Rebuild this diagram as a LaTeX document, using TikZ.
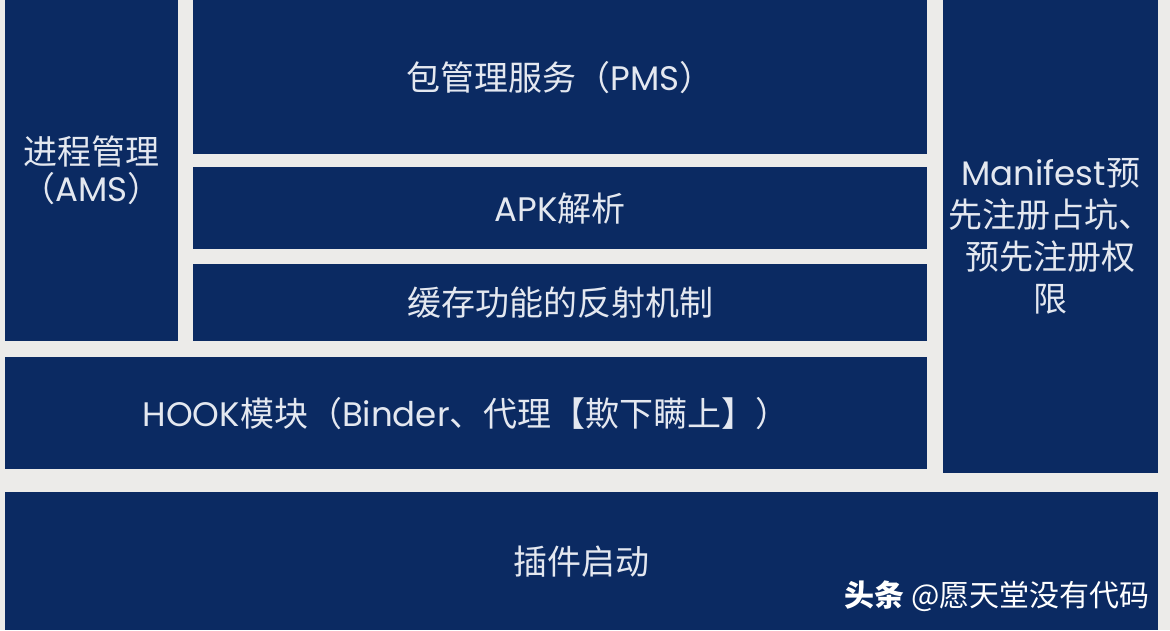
\documentclass[tikz,border=0pt]{standalone}
\usepackage{fontspec}
\setmainfont{Noto Sans CJK SC}
\newfontfamily\lat{Poppins}
\definecolor{navy}{RGB}{11,42,98}
\definecolor{paper}{RGB}{236,235,233}
\definecolor{txt}{RGB}{228,232,240}

\begin{document}
\begin{tikzpicture}[x=1pt, y=-1pt,
  blk/.style={fill=navy, text=txt, anchor=north west, inner sep=0pt, align=center,
    font=\fontsize{34}{42}\selectfont}]
\fill[paper] (0,0) rectangle (1170,630);
\useasboundingbox (0,0) rectangle (1170,630);
% left and right columns
\node[blk, minimum width=173pt, minimum height=341pt] (ams) at (5,0) {进程管理\\[-5pt]（{\lat AMS}）};
\node[blk, minimum width=215pt, minimum height=473pt] (mani) at (943,0) {{\lat Manifest}预\\先注册占坑、\\预先注册权\\限};
% middle stack
\node[blk, minimum width=734pt, minimum height=154pt] (pms) at (193,0) {包管理服务（{\lat PMS}）};
\node[blk, minimum width=734pt, minimum height=82pt] (apk) at (193,167) {{\lat APK}解析};
\node[blk, minimum width=734pt, minimum height=77pt] (cache) at (193,264) {缓存功能的反射机制};
\node[blk, minimum width=922pt, minimum height=112pt] (hook) at (5,357) {{\lat HOOK}模块（{\lat Binder}、代理【欺下瞒上】）};
% bottom
\node[blk, minimum width=1153pt, minimum height=138pt] (start) at (5,492) {插件启动};
\node[text=white, font=\fontsize{30}{34}\selectfont] (mark) at (997,596) {{\bfseries 头条} @愿天堂没有代码};
\end{tikzpicture}
\end{document}
